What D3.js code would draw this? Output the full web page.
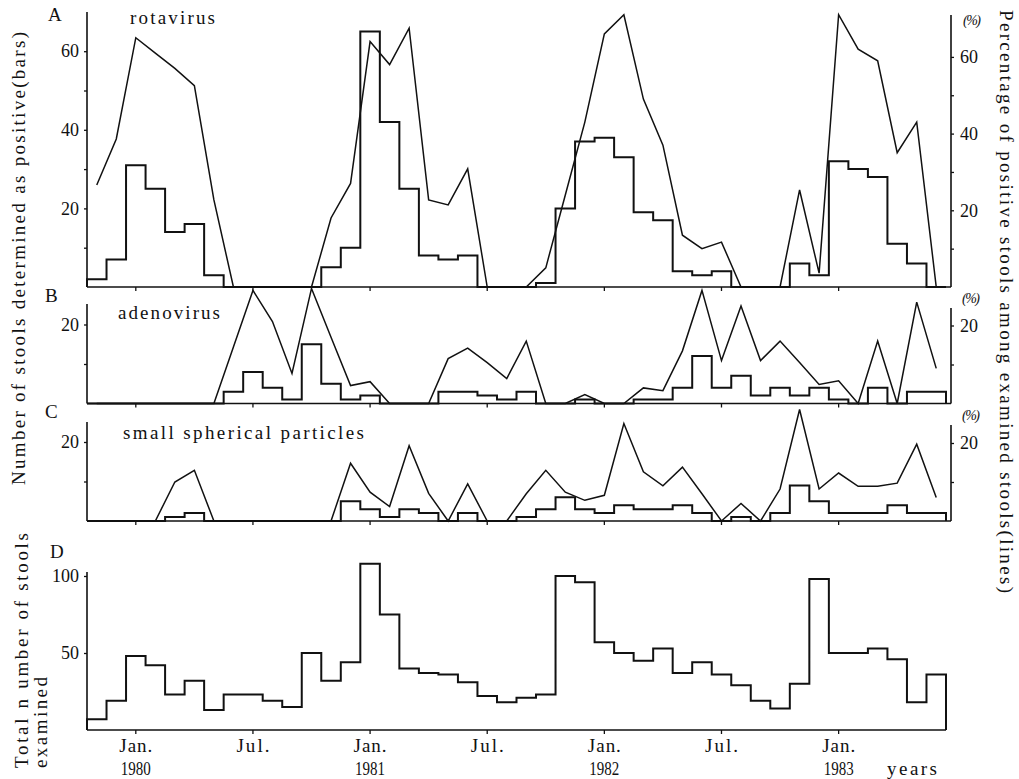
<!DOCTYPE html>
<html>
<head>
<meta charset="utf-8">
<script src="https://cdn.jsdelivr.net/npm/d3@7"></script>
<style>
  body { margin: 0; background: #fff; }
  svg text { font-family: "Liberation Serif", "Times New Roman", serif; fill: #111; }
</style>
</head>
<body>
<svg id="chart" width="1019" height="779"></svg>
<script>
// months Nov 1979 .. Jun 1983, one bar per month
const months = ["Nov79","Dec79",
  "Jan80","Feb80","Mar80","Apr80","May80","Jun80","Jul80","Aug80","Sep80","Oct80","Nov80","Dec80",
  "Jan81","Feb81","Mar81","Apr81","May81","Jun81","Jul81","Aug81","Sep81","Oct81","Nov81","Dec81",
  "Jan82","Feb82","Mar82","Apr82","May82","Jun82","Jul82","Aug82","Sep82","Oct82","Nov82","Dec82",
  "Jan83","Feb83","Mar83","Apr83","May83","Jun83"];

const tickMonths = ["Jan80","Jul80","Jan81","Jul81","Jan82","Jul82","Jan83"];
const tickMonthText = ["Jan.","Jul.","Jan.","Jul.","Jan.","Jul.","Jan."];
const tickYearText = ["1980","","1981","","1982","","1983"];

// A: rotavirus
const rotaBars = [2,7,31,25,14,16,3,0,0,0,0,0,5,10,65,42,25,8,7,8,0,0,0,1,20,37,38,33,19,17,4,3,4,0,0,0,6,3,32,30,28,11,6,0];
const rotaPct  = [26.6,38.6,65,61,57,52.5,22.7,0,0,0,0,0,18,27,64,58,67.5,22.7,21.4,30.8,0,0,0,5,24,43,66,71,49,37,13.5,10,11.7,0,0,0,25.3,3.6,71,62,59,35,43,0];
// B: adenovirus
const adenoBars = [0,0,0,0,0,0,0,3,8,4,1,15,5,1,2,0,0,0,3,3,2,1,3,0,0,1,0,0,1,1,4,12,4,7,2,4,2,4,1,0,4,0,3,3];
const adenoPct  = [0,0,0,0,0,0,0,14.5,29,21,7.7,29.5,17,4.6,5.6,0,0,0,11.5,14.2,10.5,6.4,16,0,0,2.3,0,0,4,3.3,13.5,29,11,25,11,16,10.5,4.9,5.8,0,16,0,26,9];
// C: small spherical particles
const sspBars = [0,0,0,0,1,2,0,0,0,0,0,0,0,5,3,1,3,2,0,2,0,0,1,3,6,3,2,4,3,3,4,2,0,1,0,2,9,5,2,2,2,4,2,2];
const sspPct  = [0,0,0,0,10,13,0,0,0,0,0,0,0,14.8,7.4,3.7,19.3,7.1,0,9.5,0,0,7,13,7.4,5.3,6.6,25,12.6,9,13.8,7,0,4.5,0,8.2,28.6,8.2,12.3,8.9,8.9,9.7,19.7,6];
// D: total number of stools examined
const totalStools = [7,19,48,42,23,32,13,23,23,19,15,50,32,44,108,75,40,37,36,31,22,18,21,23,100,96,57,50,45,53,37,44,36,29,19,14,30,98,50,50,53,46,18,36];

const panelLetters = ["A","B","C","D"];
const panelNames = ["rotavirus","adenovirus","small spherical particles"];
const majorTicksA = [20,40,60], minorTicksA = [10,30,50];
const majorTicksBC = [20], minorTicksBC = [10];
const ticksD = [50,100];
const leftTitle = "Number of stools determined as positive(bars)";
const rightTitle = "Percentage of positive stools among examined stools(lines)";
const dTitle = ["Total n umber of stools","examined"];
const yearsLabel = "years";
const pctUnit = "(%)";

const svg = d3.select("#chart");
const ink = "#111";
const serif = '"Liberation Serif", "Times New Roman", serif';

const x = d3.scaleBand().domain(months).range([87, 946]).padding(0);
const bw = x.bandwidth();
const cx = m => x(m) + bw / 2;

function stepPoints(vals) {
  const pts = [[x(months[0]), 0]];
  vals.forEach((v, i) => {
    pts.push([x(months[i]), v]);
    pts.push([x(months[i]) + bw, v]);
  });
  pts.push([x(months[vals.length - 1]) + bw, 0]);
  return pts;
}

function fit(sel, len, mode) {
  sel.attr("textLength", len).attr("lengthAdjust", mode || "spacing");
}

function label(g, txt, size) {
  return g.append("text").attr("font-family", serif).attr("font-size", size || 19)
    .attr("fill", ink).text(txt);
}

function line(g, x1, y1, x2, y2, w) {
  g.append("line").attr("x1", x1).attr("y1", y1).attr("x2", x2).attr("y2", y2)
    .attr("stroke", ink).attr("stroke-width", w || 1.5);
}

function styleAxis(a) {
  a.select(".domain").remove();
  a.selectAll("line").attr("stroke", ink).attr("stroke-width", 1.3);
  a.selectAll("text").attr("font-size", 18).attr("fill", ink).attr("font-family", serif);
}

// 1. THE THREE VIRUS PANELS
const panels = [
  { bars: rotaBars, pct: rotaPct, base: 287, y20L: 208.4, y20R: 210.3, topL: 12, topR: 15,
    major: majorTicksA, minor: minorTicksA,
    letter: [48, 21], name: [130, 24, 85], unit: [963, 25] },
  { bars: adenoBars, pct: adenoPct, base: 403.5, y20L: 324.5, y20R: 325.5, topL: 304, topR: 308,
    major: majorTicksBC, minor: minorTicksBC,
    letter: [45, 302], name: [118, 319, 102], unit: [962, 303] },
  { bars: sspBars, pct: sspPct, base: 521, y20L: 442, y20R: 443, topL: 422, topR: 425,
    major: majorTicksBC, minor: minorTicksBC,
    letter: [45, 418], name: [123, 439, 241], unit: [962, 420] }
];

const rightX = 951;

panels.forEach((p, k) => {
  const g = svg.append("g");
  const yL = d3.scaleLinear().domain([0, 20]).range([p.base, p.y20L]);
  const yR = d3.scaleLinear().domain([0, 20]).range([p.base, p.y20R]);

  // x baseline + month ticks
  line(g, 87, p.base, rightX, p.base, 1.6);
  g.append("g").attr("transform", `translate(0,${p.base})`)
    .call(d3.axisBottom(x).tickValues(tickMonths).tickSize(4).tickFormat(""))
    .call(styleAxis);

  // left axis
  line(g, 87, p.base, 87, p.topL, 1.6);
  g.append("g").attr("transform", "translate(87,0)")
    .call(d3.axisLeft(yL).tickValues(p.major).tickSize(3).tickPadding(5))
    .call(styleAxis);
  g.append("g").attr("transform", "translate(87,0)")
    .call(d3.axisLeft(yL).tickValues(p.minor).tickSize(3).tickFormat(""))
    .call(styleAxis);

  // right axis
  line(g, rightX, p.base, rightX, p.topR, 1.6);
  g.append("g").attr("transform", `translate(${rightX},0)`)
    .call(d3.axisRight(yR).tickValues(p.major).tickSize(3).tickPadding(6))
    .call(styleAxis);
  g.append("g").attr("transform", `translate(${rightX},0)`)
    .call(d3.axisRight(yR).tickValues(p.minor).tickSize(3).tickFormat(""))
    .call(styleAxis);

  // bars (step outline)
  g.append("path")
    .attr("d", d3.line().x(d => d[0]).y(d => yL(d[1]))(stepPoints(p.bars)))
    .attr("fill", "none").attr("stroke", ink).attr("stroke-width", 2);

  // percentage line
  g.append("path")
    .attr("d", d3.line().x((d, i) => cx(months[i])).y(d => yR(d))(p.pct))
    .attr("fill", "none").attr("stroke", ink).attr("stroke-width", 1.5);

  // labels
  label(g, panelLetters[k]).attr("x", p.letter[0]).attr("y", p.letter[1]);
  label(g, panelNames[k]).attr("x", p.name[0]).attr("y", p.name[1]).call(fit, p.name[2]);
  label(g, pctUnit, 14).attr("x", p.unit[0]).attr("y", p.unit[1])
    .attr("font-style", "italic").call(fit, 18);
});

// 2. PANEL D: TOTAL STOOLS
const dBase = 730;
const yD = d3.scaleLinear().domain([0, 100]).range([dBase, 576]);
const gD = svg.append("g");

line(gD, 87, dBase, 946, dBase, 1.6);
gD.append("g").attr("transform", `translate(0,${dBase})`)
  .call(d3.axisBottom(x).tickValues(tickMonths).tickSize(4).tickFormat(""))
  .call(styleAxis);

line(gD, 87, dBase, 87, 572, 1.6);
gD.append("g").attr("transform", "translate(87,0)")
  .call(d3.axisLeft(yD).tickValues(ticksD).tickSize(3).tickPadding(5))
  .call(styleAxis);

gD.append("path")
  .attr("d", d3.line().x(d => d[0]).y(d => yD(d[1]))(stepPoints(totalStools)))
  .attr("fill", "none").attr("stroke", ink).attr("stroke-width", 2);

label(gD, panelLetters[3]).attr("x", 50).attr("y", 558);

// x labels
tickMonths.forEach((m, i) => {
  label(gD, tickMonthText[i]).attr("x", cx(m)).attr("y", 752)
    .attr("text-anchor", "middle").call(fit, 33);
  if (tickYearText[i]) {
    label(gD, tickYearText[i]).attr("x", cx(m)).attr("y", 775)
      .attr("text-anchor", "middle").call(fit, 30, "spacingAndGlyphs");
  }
});
label(gD, yearsLabel).attr("x", 887).attr("y", 775).call(fit, 50);

// 3. AXIS TITLES
label(svg, leftTitle).attr("transform", "translate(25,485) rotate(-90)").call(fit, 453);
label(svg, rightTitle).attr("transform", "translate(1000,10) rotate(90)").call(fit, 583);
label(svg, dTitle[0]).attr("transform", "translate(28,768) rotate(-90)").call(fit, 235);
label(svg, dTitle[1]).attr("transform", "translate(47,768) rotate(-90)").call(fit, 91);
</script>
</body>
</html>
